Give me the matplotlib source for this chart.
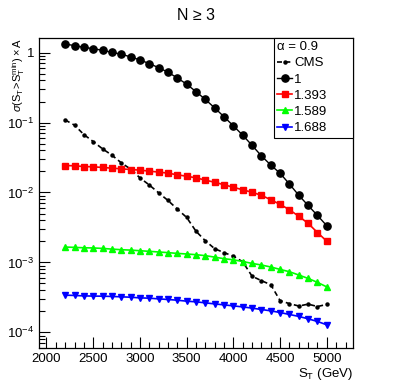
import numpy as np
import matplotlib
matplotlib.use("Agg")
import matplotlib.pyplot as plt
from matplotlib.ticker import FixedLocator, LogLocator, NullFormatter

plt.rcParams['font.family'] = ['Liberation Sans', 'DejaVu Sans']
plt.rcParams['mathtext.fontset'] = 'custom'
plt.rcParams['mathtext.rm'] = 'Liberation Sans'
plt.rcParams['mathtext.it'] = 'Liberation Sans:italic'

st = [2200, 2300, 2400, 2500, 2600, 2700, 2800, 2900, 3000, 3100, 3200, 3300, 3400, 3500,
      3600, 3700, 3800, 3900, 4000, 4100, 4200, 4300, 4400, 4500, 4600, 4700, 4800, 4900, 5000]

cms = [0.109, 0.0918, 0.0674, 0.0535, 0.0421, 0.0342, 0.0266, 0.0216, 0.0162, 0.0128, 0.0099,
       0.00769, 0.00579, 0.00440, 0.00279, 0.00204, 0.00157, 0.00138, 0.00123, 0.00102,
       0.000635, 0.000548, 0.000480, 0.000284, 0.000257, 0.000238, 0.000253, 0.000234, 0.000251]

m1 = [1.33, 1.26, 1.19, 1.14, 1.08, 1.01, 0.95, 0.87, 0.787, 0.697, 0.61, 0.525, 0.435, 0.354,
      0.277, 0.214, 0.162, 0.121, 0.0897, 0.066, 0.0472, 0.0334, 0.0247, 0.0188, 0.0132,
      0.00912, 0.00652, 0.00469, 0.00334]

m1393 = [0.0243, 0.0241, 0.0235, 0.0233, 0.0228, 0.0223, 0.0218, 0.0213, 0.0209, 0.0202, 0.0196,
         0.0189, 0.0179, 0.0171, 0.0162, 0.01503, 0.0140, 0.0129, 0.01187, 0.01093, 0.01007,
         0.00912, 0.00787, 0.00676, 0.00566, 0.00457, 0.00362, 0.00267, 0.00201]

m1589 = [1.66e-3, 1.64e-3, 1.62e-3, 1.61e-3, 1.585e-3, 1.55e-3, 1.52e-3, 1.50e-3, 1.47e-3,
         1.44e-3, 1.41e-3, 1.38e-3, 1.345e-3, 1.32e-3, 1.29e-3, 1.25e-3, 1.19e-3, 1.13e-3,
         1.09e-3, 1.03e-3, 9.68e-4, 9.18e-4, 8.6e-4, 7.94e-4, 7.36e-4, 6.6e-4, 5.9e-4,
         5.18e-4, 4.46e-4]

m1688 = [3.40e-4, 3.37e-4, 3.32e-4, 3.30e-4, 3.29e-4, 3.26e-4, 3.22e-4, 3.18e-4, 3.11e-4,
         3.08e-4, 3.01e-4, 2.95e-4, 2.88e-4, 2.79e-4, 2.73e-4, 2.64e-4, 2.55e-4, 2.47e-4,
         2.39e-4, 2.31e-4, 2.22e-4, 2.12e-4, 2.03e-4, 1.92e-4, 1.80e-4, 1.69e-4, 1.56e-4,
         1.43e-4, 1.28e-4]

fig = plt.figure(figsize=(3.93, 3.87), dpi=100)
ax = fig.add_axes([39/393, 1-348/387, (353-39)/393, (348-38)/387])

ax.plot(st, cms, color='black', ls=(0, (3, 2)), lw=1.2, marker='o', ms=2.2, label='CMS')
ax.plot(st, m1, color='black', lw=1.0, marker='o', ms=5.2, label='1')
ax.plot(st, m1393, color='#ff0000', lw=1.2, marker='s', ms=4.6, label='1.393')
ax.plot(st, m1589, color='#00ff00', lw=1.2, marker='^', ms=5.0, label='1.589')
ax.plot(st, m1688, color='#0000ff', lw=1.2, marker='v', ms=5.0, label='1.688')

ax.set_yscale('log')
ax.set_xlim(1920, 5280)
ax.set_ylim(5.97e-5, 1.62)

ax.xaxis.set_major_locator(FixedLocator([2000, 2500, 3000, 3500, 4000, 4500, 5000]))
ax.xaxis.set_minor_locator(FixedLocator(list(range(2000, 5300, 100))))
ax.yaxis.set_minor_locator(LogLocator(base=10, subs=np.arange(2, 10), numticks=50))
ax.yaxis.set_minor_formatter(NullFormatter())
ax.set_yticks([1e-4, 1e-3, 1e-2, 1e-1, 1])
ax.set_yticklabels([r'$10^{-4}$', r'$10^{-3}$', r'$10^{-2}$', r'$10^{-1}$', '1'])

ax.tick_params(which='both', direction='in', top=False, right=False, labelsize=9.5, width=0.8)
ax.tick_params(which='major', length=8)
ax.tick_params(which='minor', length=4)
for s in ax.spines.values():
    s.set_linewidth(0.9)

ax.set_xlabel(r'S$_{\mathrm{T}}$ (GeV)', loc='right', fontsize=9.5, labelpad=1)
ax.set_ylabel(r'$\sigma(\mathrm{S_{T}\!>\!S_{T}^{min}})\times\mathrm{A}$', loc='top', fontsize=8)
ax.yaxis.set_label_coords((27-39)/314, 1.0)

fig.text(196/393, 1-15/387, 'N ≥ 3', ha='center', va='center', fontsize=11.5)

x0 = (274-39)/314
leg = ax.legend(title='α = 0.9', loc='upper left', bbox_to_anchor=(x0, 0.0, 1.0-x0, 1.0),
                mode='expand', borderaxespad=0,
                fancybox=False, edgecolor='black', framealpha=1, fontsize=9.5, title_fontsize=9.5,
                handlelength=1.1, handletextpad=0.2, labelspacing=0.3, borderpad=0.25,
                alignment='left')
leg.get_frame().set_linewidth(0.8)

fig.savefig('out.png', dpi=100)
